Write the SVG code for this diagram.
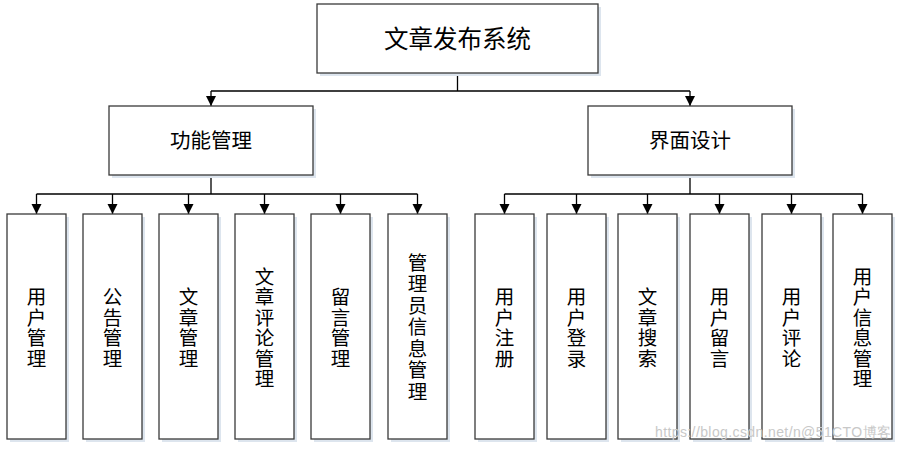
<svg xmlns="http://www.w3.org/2000/svg" width="902" height="451" viewBox="0 0 902 451">
<style>
.box{fill:#ffffff;stroke:#3a3a3a;stroke-width:1.3}
.sh{fill:#dde5ee}
.t{font-family:"Noto Sans CJK SC","Noto Sans CJK JP",sans-serif;fill:#000;text-anchor:middle}
.big{font-size:24.5px}
.mid{font-size:20.5px}
.v{font-size:19.5px;writing-mode:vertical-rl;letter-spacing:1px}
.v7{letter-spacing:2px}
.c{fill:none;stroke:#000;stroke-width:1.3}
.wm{font-family:"Liberation Sans",sans-serif;font-size:14px;fill:#c8c8c8}
</style>
<defs>
<marker id="ah" markerUnits="userSpaceOnUse" markerWidth="12" markerHeight="12" refX="10" refY="5" orient="auto">
<path d="M0,0 L10,5 L0,10 Z" fill="#000"/>
</marker>
</defs>
<rect width="902" height="451" fill="#fff"/>
<g id="connectors">
<path class="c" d="M457.5,73 V91 M211,91 H690"/>
<path class="c" d="M211,91 V106" marker-end="url(#ah)"/>
<path class="c" d="M690,91 V106" marker-end="url(#ah)"/>
<path class="c" d="M211,175 V194 M36.5,194 H417.5 M690,175 V194 M504.5,194 H862.5"/>
<path class="c" d="M36.5,194 V214" marker-end="url(#ah)"/>
<path class="c" d="M112.5,194 V214" marker-end="url(#ah)"/>
<path class="c" d="M188.5,194 V214" marker-end="url(#ah)"/>
<path class="c" d="M264.5,194 V214" marker-end="url(#ah)"/>
<path class="c" d="M340.5,194 V214" marker-end="url(#ah)"/>
<path class="c" d="M417.5,194 V214" marker-end="url(#ah)"/>
<path class="c" d="M504.5,194 V214" marker-end="url(#ah)"/>
<path class="c" d="M576.5,194 V214" marker-end="url(#ah)"/>
<path class="c" d="M647.5,194 V214" marker-end="url(#ah)"/>
<path class="c" d="M719.5,194 V214" marker-end="url(#ah)"/>
<path class="c" d="M791.5,194 V214" marker-end="url(#ah)"/>
<path class="c" d="M862.5,194 V214" marker-end="url(#ah)"/>
</g>
<g id="root">
<rect class="sh" x="320" y="7" width="281" height="69"/>
<rect class="box" x="317" y="4" width="281" height="69"/>
<text class="t big" x="457.5" y="48">文章发布系统</text>
</g>
<g id="func">
<rect class="sh" x="112" y="109" width="204" height="69"/>
<rect class="box" x="109" y="106" width="204" height="69"/>
<text class="t mid" x="211" y="148">功能管理</text>
</g>
<g id="ui">
<rect class="sh" x="591" y="109" width="204" height="69"/>
<rect class="box" x="588" y="106" width="204" height="69"/>
<text class="t mid" x="690" y="148">界面设计</text>
</g>
<g id="n1">
<rect class="sh" x="10" y="217" width="59" height="225"/>
<rect class="box" x="7" y="214" width="59" height="225"/>
<text class="t v" x="36.5" y="328">用户管理</text>
</g>
<g id="n2">
<rect class="sh" x="86" y="217" width="59" height="225"/>
<rect class="box" x="83" y="214" width="59" height="225"/>
<text class="t v" x="112.5" y="328">公告管理</text>
</g>
<g id="n3">
<rect class="sh" x="162" y="217" width="59" height="225"/>
<rect class="box" x="159" y="214" width="59" height="225"/>
<text class="t v" x="188.5" y="328">文章管理</text>
</g>
<g id="n4">
<rect class="sh" x="238" y="217" width="59" height="225"/>
<rect class="box" x="235" y="214" width="59" height="225"/>
<text class="t v" x="264.5" y="328">文章评论管理</text>
</g>
<g id="n5">
<rect class="sh" x="314" y="217" width="59" height="225"/>
<rect class="box" x="311" y="214" width="59" height="225"/>
<text class="t v" x="340.5" y="328">留言管理</text>
</g>
<g id="n6">
<rect class="sh" x="391" y="217" width="59" height="225"/>
<rect class="box" x="388" y="214" width="59" height="225"/>
<text class="t v v7" x="417.5" y="328">管理员信息管理</text>
</g>
<g id="r1">
<rect class="sh" x="478" y="217" width="59" height="225"/>
<rect class="box" x="475" y="214" width="59" height="225"/>
<text class="t v" x="504.5" y="328">用户注册</text>
</g>
<g id="r2">
<rect class="sh" x="550" y="217" width="59" height="225"/>
<rect class="box" x="547" y="214" width="59" height="225"/>
<text class="t v" x="576.5" y="328">用户登录</text>
</g>
<g id="r3">
<rect class="sh" x="621" y="217" width="59" height="225"/>
<rect class="box" x="618" y="214" width="59" height="225"/>
<text class="t v" x="647.5" y="328">文章搜索</text>
</g>
<g id="r4">
<rect class="sh" x="693" y="217" width="59" height="225"/>
<rect class="box" x="690" y="214" width="59" height="225"/>
<text class="t v" x="719.5" y="328">用户留言</text>
</g>
<g id="r5">
<rect class="sh" x="765" y="217" width="59" height="225"/>
<rect class="box" x="762" y="214" width="59" height="225"/>
<text class="t v" x="791.5" y="328">用户评论</text>
</g>
<g id="r6">
<rect class="sh" x="836" y="217" width="59" height="225"/>
<rect class="box" x="833" y="214" width="59" height="225"/>
<text class="t v" x="862.5" y="328">用户信息管理</text>
</g>
<text class="wm" x="655" y="437" textLength="236">https://blog.csdn.net/n@51CTO博客</text>
</svg>
